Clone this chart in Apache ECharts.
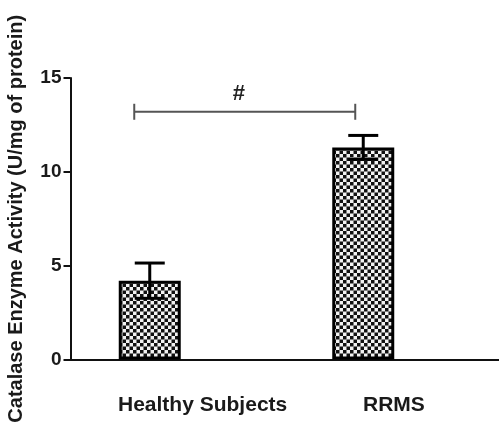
<!DOCTYPE html>
<html>
<head>
<meta charset="utf-8">
<script src="https://cdn.jsdelivr.net/npm/echarts@6/dist/echarts.min.js"></script>
<style>
html,body{margin:0;padding:0;background:#fff;}
#chart{width:499px;height:424px;}
</style>
</head>
<body>
<div id="chart"></div>
<script>
// ---- data ----
var categories = ['Healthy Subjects', 'RRMS'];
var means = [4.2, 11.3];
var errors = [0.94, 0.64];
var yTicks = [0, 5, 10, 15];
var bracket = [[0, 1, 13.2]];      // from category, to category, y value
var sigLabel = '#';
var yTitle = 'Catalase Enzyme Activity (U/mg of protein)';

// ---- styles ----
var FONT = '"Liberation Sans", Arial, sans-serif';
var GRID_TOP = 78, GRID_BOTTOM = 64.5;
var labelShift = [50, 4];   // extra left padding of category labels (px)

function makePattern() {
  var c = document.createElement('canvas');
  c.width = 7; c.height = 7;
  var g = c.getContext('2d');
  g.fillStyle = '#f2f2f2'; g.fillRect(0, 0, 7, 7);
  g.fillStyle = '#111';
  g.fillRect(0, 0, 3.5, 3.5);
  g.fillRect(3.5, 3.5, 3.5, 3.5);
  return c;
}

var chart = echarts.init(document.getElementById('chart'), null, {renderer: 'canvas'});

var option = {
  animation: false,
  backgroundColor: '#fff',
  grid: [
    {left: 43, right: 29, top: GRID_TOP, bottom: GRID_BOTTOM, outerBoundsMode: 'none', containLabel: false},
    {left: 70.5, right: 0, top: GRID_TOP, bottom: GRID_BOTTOM, outerBoundsMode: 'none', containLabel: false}
  ],
  xAxis: [
    {type: 'category', gridIndex: 0, data: categories, show: false},
    {type: 'category', gridIndex: 1,
     data: categories.map(function (c, i) {
       return {value: c, textStyle: {padding: [0, 0, 0, labelShift[i]]}};
     }),
     axisLine: {show: true, onZero: false, lineStyle: {color: '#111', width: 2}},
     axisTick: {show: false},
     axisLabel: {show: true, interval: 0, color: '#1a1a1a', fontFamily: FONT, fontWeight: 'bold', fontSize: 21, margin: 35}
    }
  ],
  yAxis: [
    {type: 'value', gridIndex: 0, min: 0, max: 15, show: false},
    {type: 'value', gridIndex: 1, min: 0, max: 15, interval: 5,
     axisLine: {show: true, lineStyle: {color: '#111', width: 2}},
     axisTick: {show: true, length: 7, lineStyle: {color: '#111', width: 2}},
     axisLabel: {color: '#1a1a1a', fontFamily: FONT, fontWeight: 'bold', fontSize: 19, margin: 9,
                 formatter: function (v) { return yTicks.indexOf(v) >= 0 ? String(v) : ''; }},
     splitLine: {show: false},
     name: yTitle, nameLocation: 'middle', nameGap: 44, nameRotate: 90,
     nameTextStyle: {color: '#1a1a1a', fontFamily: FONT, fontWeight: 'bold', fontSize: 20}
    }
  ],
  series: [
    {
      type: 'bar', xAxisIndex: 0, yAxisIndex: 0,
      data: means,
      barWidth: 62,
      itemStyle: {color: {image: makePattern(), repeat: 'repeat'}, borderColor: '#000', borderWidth: 3},
      z: 2
    },
    {
      type: 'custom', xAxisIndex: 0, yAxisIndex: 0,
      data: means.map(function (m, i) { return [i, m, errors[i]]; }),
      encode: {x: 0, y: 1},
      z: 5,
      renderItem: function (params, api) {
        var x = api.value(0), m = api.value(1), e = api.value(2);
        var top = api.coord([x, m + e]);
        var bot = api.coord([x, m - e]);
        var hw = 15;
        var st = {stroke: '#000', lineWidth: 3};
        return {type: 'group', children: [
          {type: 'line', shape: {x1: top[0], y1: top[1], x2: bot[0], y2: bot[1]}, style: st},
          {type: 'line', shape: {x1: top[0] - hw, y1: top[1], x2: top[0] + hw, y2: top[1]}, style: st},
          {type: 'line', shape: {x1: bot[0] - hw, y1: bot[1], x2: bot[0] + hw, y2: bot[1]}, style: st}
        ]};
      }
    },
    {
      type: 'custom', xAxisIndex: 0, yAxisIndex: 0,
      data: bracket,
      encode: {x: 0, y: 2},
      z: 5,
      renderItem: function (params, api) {
        var a = api.coord([api.value(0), api.value(2)]);
        var b = api.coord([api.value(1), api.value(2)]);
        var x1 = a[0] - 15.5, x2 = b[0] - 8, y = a[1];
        var st = {stroke: '#555', lineWidth: 2};
        return {type: 'group', children: [
          {type: 'line', shape: {x1: x1, y1: y, x2: x2, y2: y}, style: st},
          {type: 'line', shape: {x1: x1, y1: y - 8, x2: x1, y2: y + 8}, style: st},
          {type: 'line', shape: {x1: x2, y1: y - 8, x2: x2, y2: y + 8}, style: st},
          {type: 'text', style: {text: sigLabel, x: (x1 + x2) / 2 - 6, y: y - 18,
            textAlign: 'center', textVerticalAlign: 'middle',
            font: 'bold 22px ' + FONT, fill: '#222'}}
        ]};
      }
    }
  ]
};
chart.setOption(option);
</script>
</body>
</html>
